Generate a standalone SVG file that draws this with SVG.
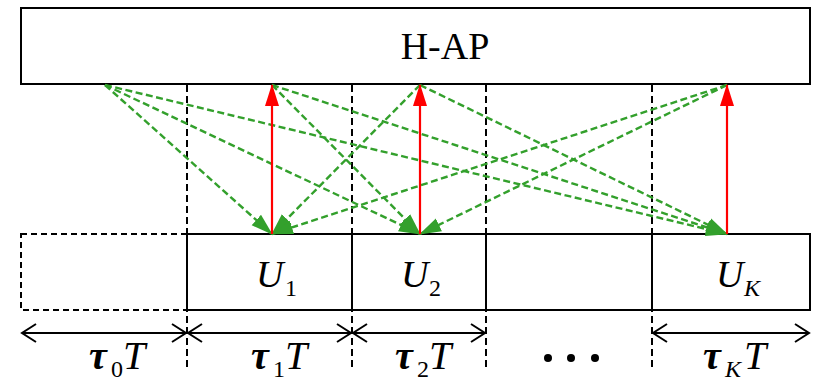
<svg xmlns="http://www.w3.org/2000/svg" width="817" height="384" viewBox="0 0 817 384">
<style>
.box{fill:#fff;stroke:#000;stroke-width:2}
.dbox{fill:none;stroke:#000;stroke-width:2;stroke-dasharray:6 4}
.vdash{stroke:#000;stroke-width:2;stroke-dasharray:7 4;fill:none}
.g{stroke:#33a02c;stroke-width:2.4;stroke-dasharray:7 3.5;fill:none;marker-end:url(#ga)}
.r{stroke:#ff0000;stroke-width:2.2;fill:none;marker-end:url(#ra)}
.dim{stroke:#000;stroke-width:2;fill:none;marker-start:url(#ch);marker-end:url(#ch)}
.t{font-family:"Liberation Serif","Times New Roman",serif;fill:#000}
.m{font-family:"Liberation Serif","Times New Roman",serif;font-style:italic;fill:#000}
.tau{font-weight:bold}
</style>
<defs>
<marker id="ga" markerUnits="userSpaceOnUse" markerWidth="22" markerHeight="16" refX="21" refY="7" orient="auto" viewBox="0 0 22 14">
<path d="M0,0 L22,7 L0,14 z" fill="#33a02c"/>
</marker>
<marker id="ra" markerUnits="userSpaceOnUse" markerWidth="22" markerHeight="16" refX="21" refY="7" orient="auto" viewBox="0 0 22 14">
<path d="M0,0 L22,7 L0,14 z" fill="#ff0000"/>
</marker>
<marker id="ch" markerUnits="userSpaceOnUse" markerWidth="18" markerHeight="22" refX="15" refY="10" orient="auto-start-reverse" viewBox="0 0 18 20">
<path d="M1,1 L15,10 L1,19" fill="none" stroke="#000" stroke-width="2"/>
</marker>
</defs>

<g id="hap">
<rect class="box" x="21" y="8" width="789" height="76"/>
<text class="t" x="445" y="59" font-size="38" text-anchor="middle">H-AP</text>
</g>

<g id="guides">
<line class="vdash" x1="187" y1="85" x2="187" y2="367"/>
<line class="vdash" x1="352" y1="85" x2="352" y2="367"/>
<line class="vdash" x1="486" y1="85" x2="486" y2="367"/>
<line class="vdash" x1="652" y1="85" x2="652" y2="367"/>
</g>

<g id="slot0">
<rect class="dbox" x="21" y="234" width="166" height="76"/>
</g>
<g id="u1">
<rect class="box" x="187" y="234" width="165" height="76"/>
<text class="m" x="256" y="287" font-size="38">U<tspan class="t" font-style="normal" font-size="24" x="285" y="296">1</tspan></text>
</g>
<g id="u2">
<rect class="box" x="352" y="234" width="134" height="76"/>
<text class="m" x="401" y="287" font-size="38">U<tspan class="t" font-style="normal" font-size="24" x="429" y="296">2</tspan></text>
</g>
<g id="udots">
<rect class="box" x="486" y="234" width="166" height="76"/>
</g>
<g id="uk">
<rect class="box" x="652" y="234" width="158" height="76"/>
<text class="m" x="716" y="287" font-size="38">U<tspan font-size="24" x="744" y="296">K</tspan></text>
</g>

<g id="connectors">
<line class="g" x1="105" y1="85" x2="272" y2="234"/>
<line class="g" x1="105" y1="85" x2="420" y2="234"/>
<line class="g" x1="105" y1="85" x2="727" y2="234"/>
<line class="g" x1="272" y1="85" x2="420" y2="234"/>
<line class="g" x1="272" y1="85" x2="727" y2="234"/>
<line class="g" x1="420" y1="85" x2="272" y2="234"/>
<line class="g" x1="420" y1="85" x2="727" y2="234"/>
<line class="g" x1="727" y1="85" x2="272" y2="234"/>
<line class="g" x1="727" y1="85" x2="420" y2="234"/>
<line class="r" x1="272" y1="234" x2="272" y2="85"/>
<line class="r" x1="420" y1="234" x2="420" y2="85"/>
<line class="r" x1="727" y1="234" x2="727" y2="85"/>
</g>

<g id="timeline">
<line class="dim" x1="22" y1="333" x2="186" y2="333"/>
<line class="dim" x1="188" y1="333" x2="351" y2="333"/>
<line class="dim" x1="353" y1="333" x2="485" y2="333"/>
<line class="dim" x1="653" y1="333" x2="809" y2="333"/>
<text class="m" x="89" y="369" font-size="40"><tspan class="tau">τ</tspan><tspan class="t" font-style="normal" font-size="24" x="111" y="377">0</tspan><tspan x="123" y="369">T</tspan></text>
<text class="m" x="251" y="369" font-size="40"><tspan class="tau">τ</tspan><tspan class="t" font-style="normal" font-size="24" x="273" y="377">1</tspan><tspan x="285" y="369">T</tspan></text>
<text class="m" x="395" y="369" font-size="40"><tspan class="tau">τ</tspan><tspan class="t" font-style="normal" font-size="24" x="417" y="377">2</tspan><tspan x="429" y="369">T</tspan></text>
<text class="m" x="703" y="369" font-size="40"><tspan class="tau">τ</tspan><tspan font-size="24" x="725" y="377">K</tspan><tspan x="744" y="369">T</tspan></text>
<circle cx="548" cy="358" r="4"/>
<circle cx="571" cy="358" r="4"/>
<circle cx="595" cy="358" r="4"/>
</g>
</svg>
